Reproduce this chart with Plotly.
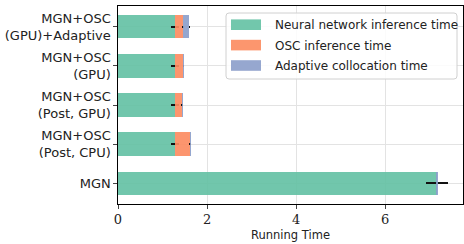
import plotly.graph_objects as go

categories = ["MGN+OSC<br>(GPU)+Adaptive", "MGN+OSC<br>(GPU)", "MGN+OSC<br>(Post, GPU)",
              "MGN+OSC<br>(Post, CPU)", "MGN"]
nn_time = [1.28, 1.28, 1.28, 1.28, 7.16]
nn_err = [0.08, 0.08, 0.08, 0.09, 0.25]
osc_time = [0.18, 0.19, 0.16, 0.34, 0.0]
osc_err = [0.03, 0.02, 0.02, 0.02, 0.0]
ada_time = [0.14, 0.01, 0.01, 0.01, 0.01]
ada_err = [0.01, 0.0, 0.0, 0.0, 0.0]
series_names = ["Neural network inference time", "OSC inference time", "Adaptive collocation time"]
x_ticks = [0, 2, 4, 6]

colors = ["#66c2a5", "#fc8d62", "#8da0cb"]

# plot-area geometry in pixels (for the hand-drawn legend box)
W, H = 464, 244
ML, MR, MT, MB = 118, 1, 6, 40
PW, PH = W - ML - MR, H - MT - MB


def px(x):
    return (x - ML) / PW


def py(y):
    return 1 - (y - MT) / PH


fig = go.Figure()
for name, vals, errs, col in zip(series_names, [nn_time, osc_time, ada_time],
                                 [nn_err, osc_err, ada_err], colors):
    fig.add_trace(go.Bar(
        y=categories, x=vals, orientation="h", name=name, showlegend=False,
        marker=dict(color=col, line=dict(width=0)), opacity=0.92,
        error_x=dict(type="data", array=errs, color="black", thickness=2, width=0),
    ))

# legend box (rounded)
x0, x1, y0, y1 = px(226), px(457), py(13), py(79)
rx, ry = 3 / PW, 3 / PH
path = (f"M{x0+rx},{y0} L{x1-rx},{y0} Q{x1},{y0} {x1},{y0-ry} "
        f"L{x1},{y1+ry} Q{x1},{y1} {x1-rx},{y1} L{x0+rx},{y1} Q{x0},{y1} {x0},{y1+ry} "
        f"L{x0},{y0-ry} Q{x0},{y0} {x0+rx},{y0} Z")
shapes = [dict(type="path", xref="paper", yref="paper", path=path,
               fillcolor="rgba(255,255,255,0.85)", line=dict(color="#d0d0d0", width=1),
               layer="above")]
annotations = []
row_centers = [24.7, 45.1, 65.5]
for name, col, yc in zip(series_names, colors, row_centers):
    shapes.append(dict(type="rect", xref="paper", yref="paper",
                       x0=px(231), x1=px(261), y0=py(yc - 5.3), y1=py(yc + 5.3),
                       fillcolor=col, opacity=0.92, line=dict(width=0), layer="above"))
    annotations.append(dict(xref="paper", yref="paper", x=px(272.5), y=py(yc + 0.5),
                            text=name, showarrow=False, xanchor="left", yanchor="middle",
                            font=dict(size=12, color="#222")))

fig.update_layout(
    barmode="stack", bargap=0.4,
    width=W, height=H,
    margin=dict(l=ML, r=MR, t=MT, b=MB),
    plot_bgcolor="white", paper_bgcolor="white",
    font=dict(family="DejaVu Sans", size=13, color="#222"),
    shapes=shapes, annotations=annotations,
    xaxis=dict(range=[0, 7.75], tickvals=x_ticks, ticks="outside", ticklen=3.5,
               tickfont=dict(family="DejaVu Serif", size=13), automargin=False,
               showgrid=True, gridcolor="#e3e3e3", gridwidth=1,
               showline=True, linecolor="black", linewidth=1.2, mirror=True,
               zeroline=False,
               title=dict(text="Running Time", font=dict(size=11.5), standoff=4)),
    yaxis=dict(categoryorder="array", categoryarray=categories, automargin=False,
               range=[4.53, -0.53], ticks="outside", ticklen=3.5,
               showgrid=True, gridcolor="#e3e3e3", gridwidth=1,
               showline=True, linecolor="black", linewidth=1.2, mirror=True,
               tickfont=dict(size=13)),
)

fig.write_html("out.html", config={"displayModeBar": False},
               post_script="document.body.style.margin='0px';document.body.style.overflow='hidden';")
